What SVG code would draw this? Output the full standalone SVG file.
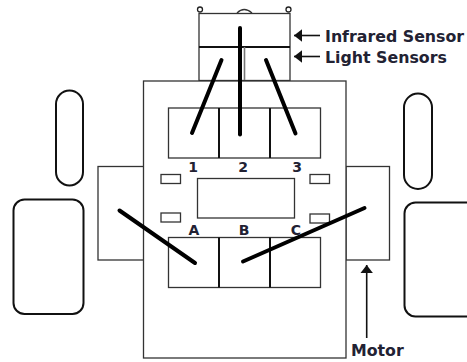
<svg xmlns="http://www.w3.org/2000/svg" width="467" height="362" viewBox="0 0 467 362">
<defs>
<marker id="ah" markerUnits="userSpaceOnUse" markerWidth="10" markerHeight="14" refX="8" refY="7" orient="auto"><path d="M0 0.800L8 7L0 13.200Z" fill="#111"/></marker>
</defs>
<style>
.b{fill:#fff;stroke:#333;stroke-width:1.3}
.t{fill:none;stroke:#111;stroke-width:2}
.w{fill:#fff;stroke:#111;stroke-width:2}
.th{stroke:#000;stroke-width:4;stroke-linecap:round;fill:none}
.a{stroke:#111;stroke-width:1.6;fill:none}
text{font-family:"DejaVu Sans",Verdana,sans-serif;font-weight:bold;fill:#223}
.l{font-size:15.800px}
.n{font-size:14px}
</style>
<rect width="467" height="362" fill="#fff"/>
<g id="wheel-left-small"><rect class="w" x="56" y="90.500" width="27" height="95" rx="13.500"/></g>
<g id="wheel-left-large"><rect class="w" x="13.500" y="199.500" width="70" height="114.500" rx="11"/></g>
<g id="wheel-right-small"><rect class="w" x="404" y="93.500" width="28" height="95.500" rx="14"/></g>
<g id="wheel-right-large"><rect class="w" x="404.500" y="202.500" width="72" height="114" rx="11"/></g>
<g id="sensor-head">
<circle cx="200" cy="9.500" r="2.500" fill="#fff" stroke="#222" stroke-width="1.300"/>
<circle cx="288.500" cy="9.500" r="2.500" fill="#fff" stroke="#222" stroke-width="1.300"/>
<path d="M237 13Q244 6 252 13" fill="none" stroke="#333" stroke-width="1.300"/>
<rect class="b" x="199" y="13.500" width="91" height="67"/>
<path d="M199 47H290" stroke="#111" stroke-width="2.200"/>
<path d="M244.500 47V80" stroke="#777" stroke-width="1.600"/>
</g>
<g id="motor-left"><rect class="b" x="98" y="166.500" width="46" height="93.500"/></g>
<g id="motor-right"><rect class="b" x="346" y="166.500" width="43.500" height="93.500"/></g>
<g id="chassis"><rect class="b" x="143.500" y="81" width="202.500" height="277" stroke-width="1.500"/></g>
<g id="sensor-board">
<rect class="b" x="168.500" y="108" width="152" height="50"/>
<path class="t" d="M219 108V158M270 108V158"/>
</g>
<g id="motor-board">
<rect class="b" x="168.500" y="237.500" width="152" height="50"/>
<path class="t" d="M219 237.500V287.500M270 237.500V287.500"/>
</g>
<g id="controller"><rect class="b" x="197.500" y="178.500" width="97" height="39.500"/></g>
<g id="led-1"><rect class="b" x="161" y="174.500" width="19.500" height="9"/></g>
<g id="led-2"><rect class="b" x="161" y="213" width="19.500" height="9"/></g>
<g id="led-3"><rect class="b" x="310" y="174.500" width="19.500" height="9"/></g>
<g id="led-4"><rect class="b" x="310" y="214" width="19.500" height="9"/></g>
<g id="connectors">
<path class="th" d="M221.500 60L192 133"/>
<path class="th" d="M240 28V134.500"/>
<path class="th" d="M266 60L295.500 133.500"/>
<path class="th" d="M119.500 210.500L195 263"/>
<path class="th" d="M364.500 208L243 261.500"/>
<path class="a" d="M320 35.500H294" marker-end="url(#ah)"/>
<path class="a" d="M320 56.500H294" marker-end="url(#ah)"/>
<path class="a" d="M366.700 338V265" marker-end="url(#ah)"/>
</g>
<g id="labels">
<text class="l" x="325" y="41.500">Infrared Sensor</text>
<text class="l" x="325" y="62.500">Light Sensors</text>
<text class="l" x="351" y="356">Motor</text>
<text class="n" x="193" y="172" text-anchor="middle">1</text>
<text class="n" x="243" y="172" text-anchor="middle">2</text>
<text class="n" x="297" y="172" text-anchor="middle">3</text>
<text class="n" x="194" y="235" text-anchor="middle">A</text>
<text class="n" x="244" y="235" text-anchor="middle">B</text>
<text class="n" x="296" y="235" text-anchor="middle">C</text>
</g>
</svg>
